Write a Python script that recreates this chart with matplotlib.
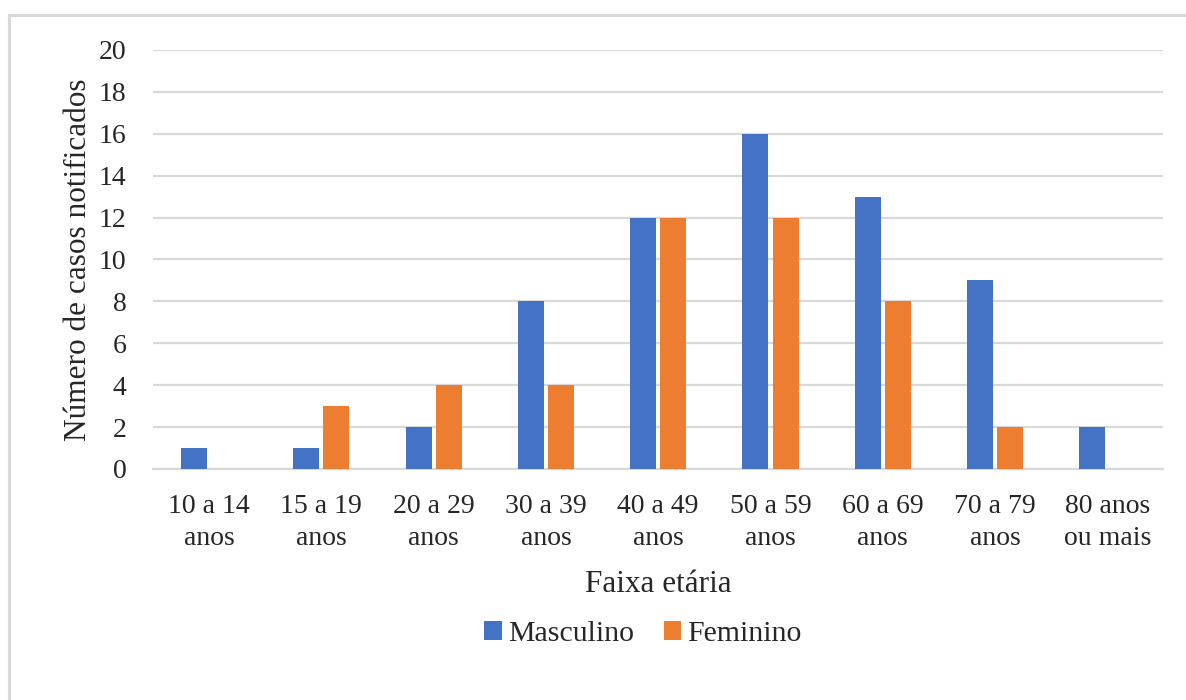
import numpy as np
import matplotlib.pyplot as plt
from matplotlib.lines import Line2D

categories = ["10 a 14\nanos", "15 a 19\nanos", "20 a 29\nanos", "30 a 39\nanos",
              "40 a 49\nanos", "50 a 59\nanos", "60 a 69\nanos", "70 a 79\nanos",
              "80 anos\nou mais"]
masculino = [1, 1, 2, 8, 12, 16, 13, 9, 2]
feminino = [0, 3, 4, 4, 12, 12, 8, 2, 0]

plt.rcParams['font.family'] = ['Liberation Serif', 'DejaVu Serif']

fig = plt.figure(figsize=(11.86, 7.0), dpi=100)
ax = fig.add_axes([0.129, 0.33, 0.852, 0.5986])

x = np.arange(len(categories))
w = 0.232
off = 0.134
ax.bar(x - off, masculino, w, color='#4472c4', label='Masculino', zorder=3)
ax.bar(x + off, feminino, w, color='#ed7d31', label='Feminino', zorder=3)

ax.set_xlim(-0.5, len(categories) - 0.5)
ax.set_ylim(0, 20)
ax.set_yticks(range(0, 21, 2))
ax.yaxis.grid(True, color='#d9d9d9', linewidth=1.6, zorder=0)
ax.set_axisbelow(True)
for s in ['top', 'right', 'left']:
    ax.spines[s].set_visible(False)
ax.spines['bottom'].set_color('#d9d9d9')
ax.spines['bottom'].set_linewidth(1.6)

ax.set_xticks(x)
ax.set_xticklabels(categories, fontsize=20, linespacing=1.35)
ax.tick_params(axis='x', length=0, pad=18, colors='#262626')
ax.tick_params(axis='y', length=0, pad=19, labelsize=20, colors='#262626')

ax.set_xlabel("Faixa etária", fontsize=22.5, color='#262626', labelpad=14)
ax.set_ylabel("Número de casos notificados", fontsize=22.5, color='#262626', labelpad=4)

ax.legend(loc='center', bbox_to_anchor=(0.542, 0.094), bbox_transform=fig.transFigure,
          ncol=2, frameon=False, fontsize=21.5, handlelength=0.6, handleheight=0.6,
          handletextpad=0.2, columnspacing=1.0, labelcolor='#262626')

# light gray frame around chart area
fig.add_artist(Line2D([8.5 / 1186, 1.0], [1 - 14.5 / 700, 1 - 14.5 / 700],
                      transform=fig.transFigure, color='#d9d9d9', linewidth=2.2))
fig.add_artist(Line2D([8.5 / 1186, 8.5 / 1186], [0.0, 1 - 14.5 / 700],
                      transform=fig.transFigure, color='#d9d9d9', linewidth=2.2))

fig.savefig("out.png", dpi=100)
